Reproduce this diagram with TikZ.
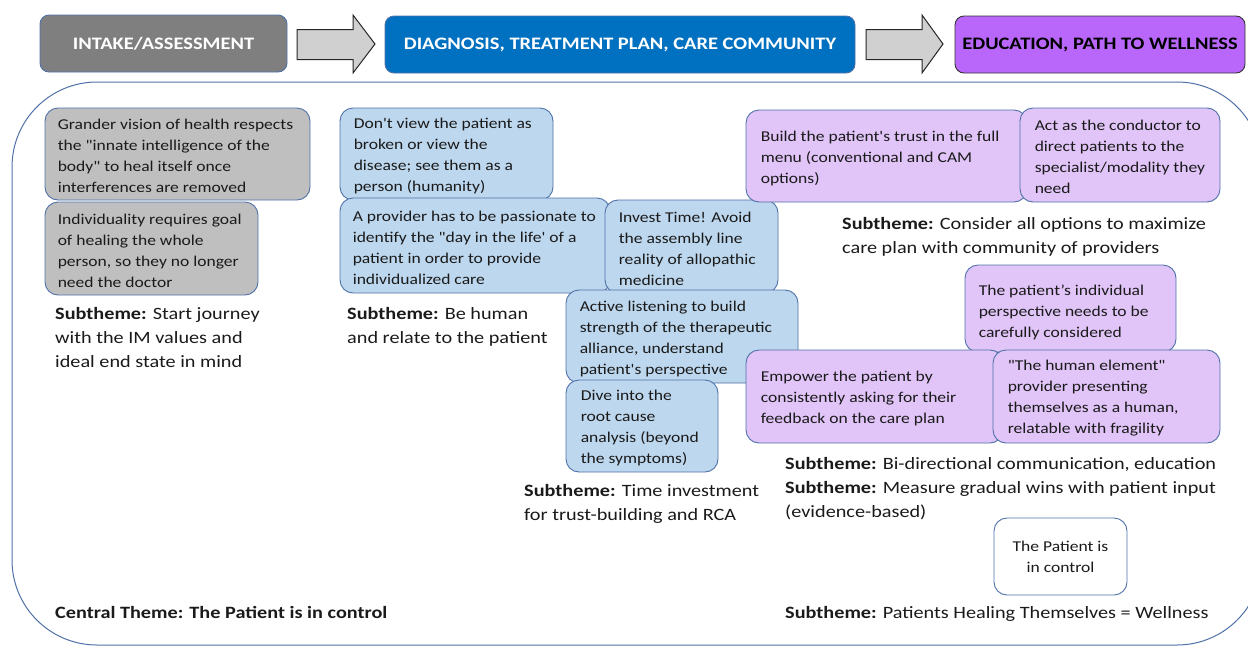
\documentclass[tikz,border=0pt]{standalone}
\usepackage{fontspec}
\setmainfont{Carlito}[Ligatures=TeXOff, FakeStretch=1.17]
\definecolor{lineblue}{HTML}{4F71A8}
\definecolor{ink}{HTML}{1A1A1A}
\definecolor{hdrgray}{HTML}{7F7F7F}
\definecolor{hdrblue}{HTML}{0070C0}
\definecolor{hdrpurple}{HTML}{B967FA}
\definecolor{arrowgray}{HTML}{D0D0D0}
\definecolor{boxgray}{HTML}{BFBFBF}
\definecolor{boxblue}{HTML}{BDD7EE}
\definecolor{boxpurple}{HTML}{E1C4F8}
\begin{document}
\begin{tikzpicture}[x=1pt,y=-1pt,
  hdr/.style={rounded corners=9pt, line width=0.9pt, inner sep=0pt,
    font=\fontsize{17.5}{20}\selectfont\bfseries},
  blockarrow/.style={draw=black!85, fill=arrowgray, line width=1pt},
  box/.style={draw=lineblue, line width=0.9pt, rounded corners=13pt, inner sep=0pt},
  gbox/.style={box, fill=boxgray},
  bbox/.style={box, fill=boxblue},
  pbox/.style={box, fill=boxpurple},
  txt/.style={inner sep=0pt, align=left, anchor=west, text=ink, yshift=-2pt,
    font=\fontsize{15}{21}\selectfont},
  sub/.style={inner sep=0pt, align=left, anchor=north west, text=ink, yshift=-2pt,
    font=\fontsize{17.3}{24}\selectfont}]
\useasboundingbox (0,0) rectangle (1248,646);

% outer frame holding all themes
\node[draw=lineblue, line width=1pt, rounded corners=85pt, inner sep=0pt,
  minimum width=1250pt, minimum height=563pt] (frame) at (637,363.5) {};

% phase headers
\node[hdr, fill=hdrgray, draw=lineblue, text=white,
  minimum width=247pt, minimum height=57pt] (intake) at (163.5,43.5) {INTAKE/ASSESSMENT};
\node[hdr, fill=hdrblue, draw=lineblue, text=white,
  minimum width=470pt, minimum height=57pt] (diag) at (620,44.5) {DIAGNOSIS, TREATMENT PLAN, CARE COMMUNITY};
\node[hdr, fill=hdrpurple, draw=black!80, text=black,
  minimum width=290pt, minimum height=57pt] (edu) at (1100,44.5) {EDUCATION, PATH TO WELLNESS};

% block arrows between phases
\draw[blockarrow] (297,29.5) -- (353,29.5) -- (353,15) -- (375,44) -- (353,73)
  -- (353,59.5) -- (297,59.5) -- cycle;
\draw[blockarrow] (866,29.5) -- (922,29.5) -- (922,15) -- (943,44) -- (922,73)
  -- (922,59.5) -- (866,59.5) -- cycle;

% intake boxes
\node[gbox, minimum width=265pt, minimum height=92pt] (g1) at (177.5,154) {};
\node[txt] (g1t) at ([xshift=13pt]g1.west) {Grander vision of health respects\\the "innate intelligence of the\\body" to heal itself once\\interferences are removed};
\node[gbox, minimum width=213pt, minimum height=93pt] (g2) at (151.5,248.5) {};
\node[txt] (g2t) at ([xshift=13pt]g2.west) {Individuality requires goal\\of healing the whole\\person, so they no longer\\need the doctor};

% diagnosis boxes
\node[bbox, minimum width=213pt, minimum height=92pt] (b1) at (446.5,154) {};
\node[txt] (b1t) at ([xshift=14pt]b1.west) {Don't view the patient as\\broken or view the\\disease; see them as a\\person (humanity)};
\node[bbox, minimum width=270pt, minimum height=95pt] (b2) at (475,245.5) {};
\node[txt] (b2t) at ([xshift=13pt]b2.west) {A provider has to be passionate to\\identify the "day in the life' of a\\patient in order to provide\\individualized care};
\node[bbox, minimum width=173pt, minimum height=93pt] (b3) at (691.5,246.5) {};
\node[txt] (b3t) at ([xshift=14pt]b3.west) {Invest Time! Avoid\\the assembly line\\reality of allopathic\\medicine};
\node[bbox, minimum width=232pt, minimum height=93pt] (b4) at (682,336.5) {};
\node[txt] (b4t) at ([xshift=14pt]b4.west) {Active listening to build\\strength of the therapeutic\\alliance, understand\\patient's perspective};
\node[bbox, minimum width=152pt, minimum height=92pt] (b5) at (642,426) {};
\node[txt] (b5t) at ([xshift=15pt]b5.west) {Dive into the\\root cause\\analysis (beyond\\the symptoms)};

% education boxes
\node[pbox, minimum width=281pt, minimum height=92pt] (p1) at (886.5,156) {};
\node[txt] (p1t) at ([xshift=15pt]p1.west) {Build the patient's trust in the full\\menu (conventional and CAM\\options)};
\node[pbox, minimum width=200pt, minimum height=94pt] (p2) at (1120,155) {};
\node[txt] (p2t) at ([xshift=15pt]p2.west) {Act as the conductor to\\direct patients to the\\specialist/modality they\\need};
\node[pbox, minimum width=211pt, minimum height=87pt] (p3) at (1070.5,308.5) {};
\node[txt] (p3t) at ([xshift=14pt,yshift=-2pt]p3.west) {The patient’s individual\\perspective needs to be\\carefully considered};
\node[pbox, minimum width=257pt, minimum height=93pt] (p4) at (874.5,396.5) {};
\node[txt] (p4t) at ([xshift=15pt]p4.west) {Empower the patient by\\consistently asking for their\\feedback on the care plan};
\node[pbox, minimum width=227pt, minimum height=93pt] (p5) at (1106.5,396.5) {};
\node[txt] (p5t) at ([xshift=15pt]p5.west) {"The human element"\\provider presenting\\themselves as a human,\\relatable with fragility};

% central statement box
\node[box, fill=white, minimum width=133pt, minimum height=77pt, align=center, text=ink,
  font=\fontsize{15}{21}\selectfont] (ctrl) at (1060.5,556.5) {The Patient is\\in control};

% subthemes
\node[sub] (s1) at (55,305) {\textbf{Subtheme:} Start journey\\with the IM values and\\ideal end state in mind};
\node[sub] (s2) at (347,305) {\textbf{Subtheme:} Be human\\and relate to the patient};
\node[sub] (s3) at (524,482) {\textbf{Subtheme:} Time investment\\for trust-building and RCA};
\node[sub] (s4) at (842,215) {\textbf{Subtheme:} Consider all options to maximize\\care plan with community of providers};
\node[sub] (s5) at (785,455) {\textbf{Subtheme:} Bi-directional communication, education\\\textbf{Subtheme:} Measure gradual wins with patient input\\(evidence-based)};
\node[sub] (s6) at (785,604) {\textbf{Subtheme:} Patients Healing Themselves = Wellness};
\node[sub, font=\fontsize{17.3}{24}\selectfont\bfseries] (central) at (55,604) {Central Theme: The Patient is in control};
\end{tikzpicture}
\end{document}
